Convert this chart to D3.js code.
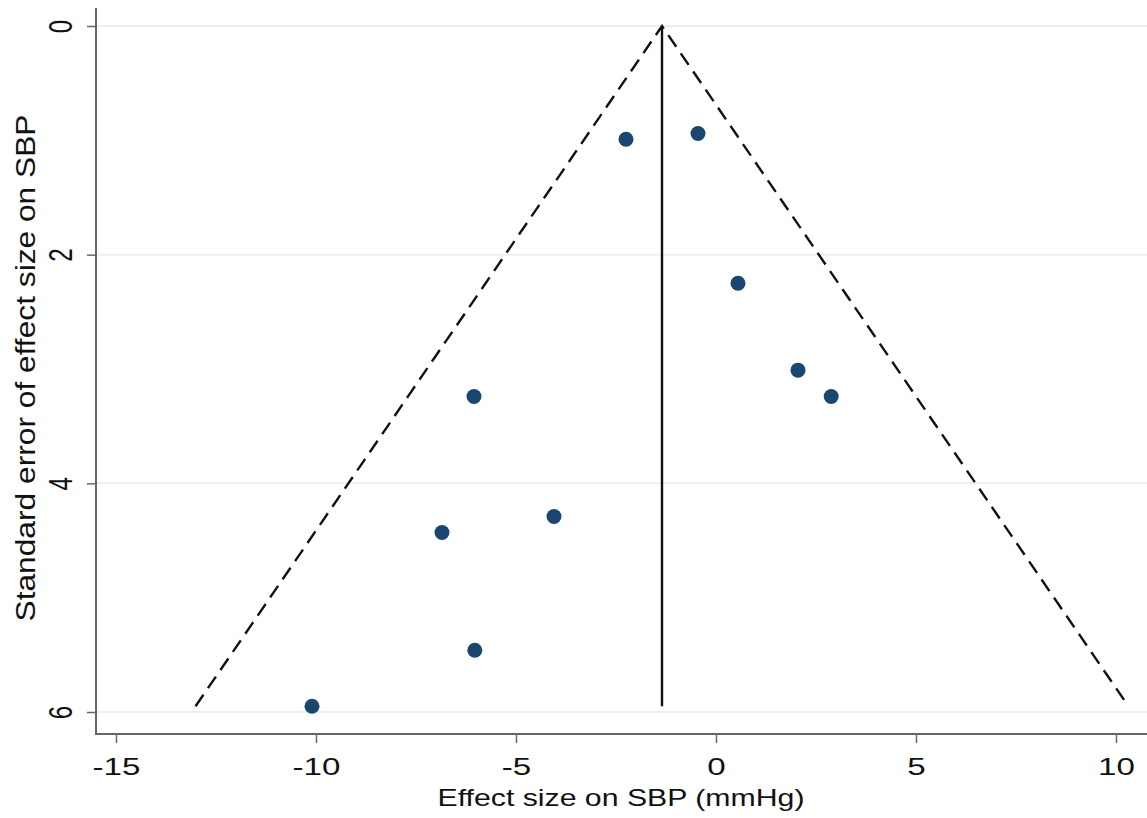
<!DOCTYPE html>
<html lang="en">
<head>
<meta charset="utf-8">
<title>Funnel plot</title>
<script src="https://d3js.org/d3.v7.min.js"></script>
<style>
  body { margin: 0; background: #fff; }
  svg { display: block; }
  .tick text { font-family: "Liberation Sans", Arial, sans-serif; font-size: 24px; fill: #111; }
  .title { font-family: "Liberation Sans", Arial, sans-serif; fill: #111; }
</style>
</head>
<body>
<svg width="1147" height="818"></svg>
<script>
// effect sizes (mmHg) and their standard errors
const effect = [-2.25, -0.45, 0.55, 2.05, 2.88, -6.05, -4.05, -6.85, -6.03, -10.1];
const stderr = [0.99, 0.94, 2.25, 3.01, 3.24, 3.24, 4.29, 4.43, 5.46, 5.95];
const pooled = -1.35;
const xTicks = [-15, -10, -5, 0, 5, 10];
const yTicks = [0, 2, 4, 6];

const svg = d3.select("svg");

const x = d3.scaleLinear().domain([-15, 10]).range([116, 1116]);
const y = d3.scaleLinear().domain([0, 6]).range([26, 712]);

const plotLeft = 96, plotBottom = 734, plotTop = 8, plotRight = 1147;

// gridlines
svg.append("g").selectAll("line")
  .data(yTicks)
  .join("line")
  .attr("x1", plotLeft).attr("x2", plotRight)
  .attr("y1", d => y(d)).attr("y2", d => y(d))
  .attr("stroke", "#e8f0f2").attr("stroke-width", 2);

// axes
const yAxis = svg.append("g")
  .attr("transform", `translate(${plotLeft},0)`)
  .call(d3.axisLeft(y).tickValues(yTicks).tickFormat(d => String(d)).tickSize(9).tickSizeOuter(0));
yAxis.select(".domain").remove();
yAxis.selectAll(".tick line").attr("stroke", "#666").attr("stroke-width", 1.5);
yAxis.selectAll(".tick text")
  .attr("x", 0).attr("y", 0).attr("dy", 0)
  .attr("text-anchor", "middle")
  .attr("transform", "translate(-24,0) scale(1.4,1) rotate(-90)");

const xAxis = svg.append("g")
  .attr("transform", `translate(0,${plotBottom})`)
  .call(d3.axisBottom(x).tickValues(xTicks).tickFormat(d => String(d)).tickSize(9).tickSizeOuter(0));
xAxis.select(".domain").remove();
xAxis.selectAll(".tick line").attr("stroke", "#666").attr("stroke-width", 1.5);
xAxis.selectAll(".tick text")
  .attr("y", 41).attr("dy", 0)
  .attr("transform", "scale(1.38,1)");

svg.append("path")
  .attr("d", `M${plotLeft},${plotTop}V${plotBottom}H${plotRight}`)
  .attr("fill", "none").attr("stroke", "#666").attr("stroke-width", 2);

// pseudo 95% confidence limits
const seMax = d3.max(stderr);
const line = d3.line().x(d => x(d[0])).y(d => y(d[1]));
svg.append("path")
  .attr("d", line([[pooled - 1.96 * seMax, seMax], [pooled, 0], [pooled + 1.96 * seMax, seMax]]))
  .attr("fill", "none").attr("stroke", "#111").attr("stroke-width", 2.4)
  .attr("stroke-dasharray", "14,8");

// pooled effect
svg.append("path")
  .attr("d", line([[pooled, 0], [pooled, seMax]]))
  .attr("stroke", "#111").attr("stroke-width", 2.4);

// studies
svg.append("g").selectAll("circle")
  .data(effect.map((e, i) => [e, stderr[i]]))
  .join("circle")
  .attr("cx", d => x(d[0]))
  .attr("cy", d => y(d[1]))
  .attr("r", 7.5)
  .attr("fill", "#1a476f");

// titles
svg.append("text").attr("class", "title")
  .attr("x", 621).attr("y", 806)
  .attr("font-size", 24)
  .attr("text-anchor", "middle")
  .attr("textLength", 367).attr("lengthAdjust", "spacingAndGlyphs")
  .text("Effect size on SBP (mmHg)");

svg.append("text").attr("class", "title")
  .attr("transform", "translate(35,368) scale(1.1,1) rotate(-90)")
  .attr("font-size", 25)
  .attr("text-anchor", "middle")
  .attr("textLength", 507).attr("lengthAdjust", "spacingAndGlyphs")
  .text("Standard error of effect size on SBP");
</script>
</body>
</html>
